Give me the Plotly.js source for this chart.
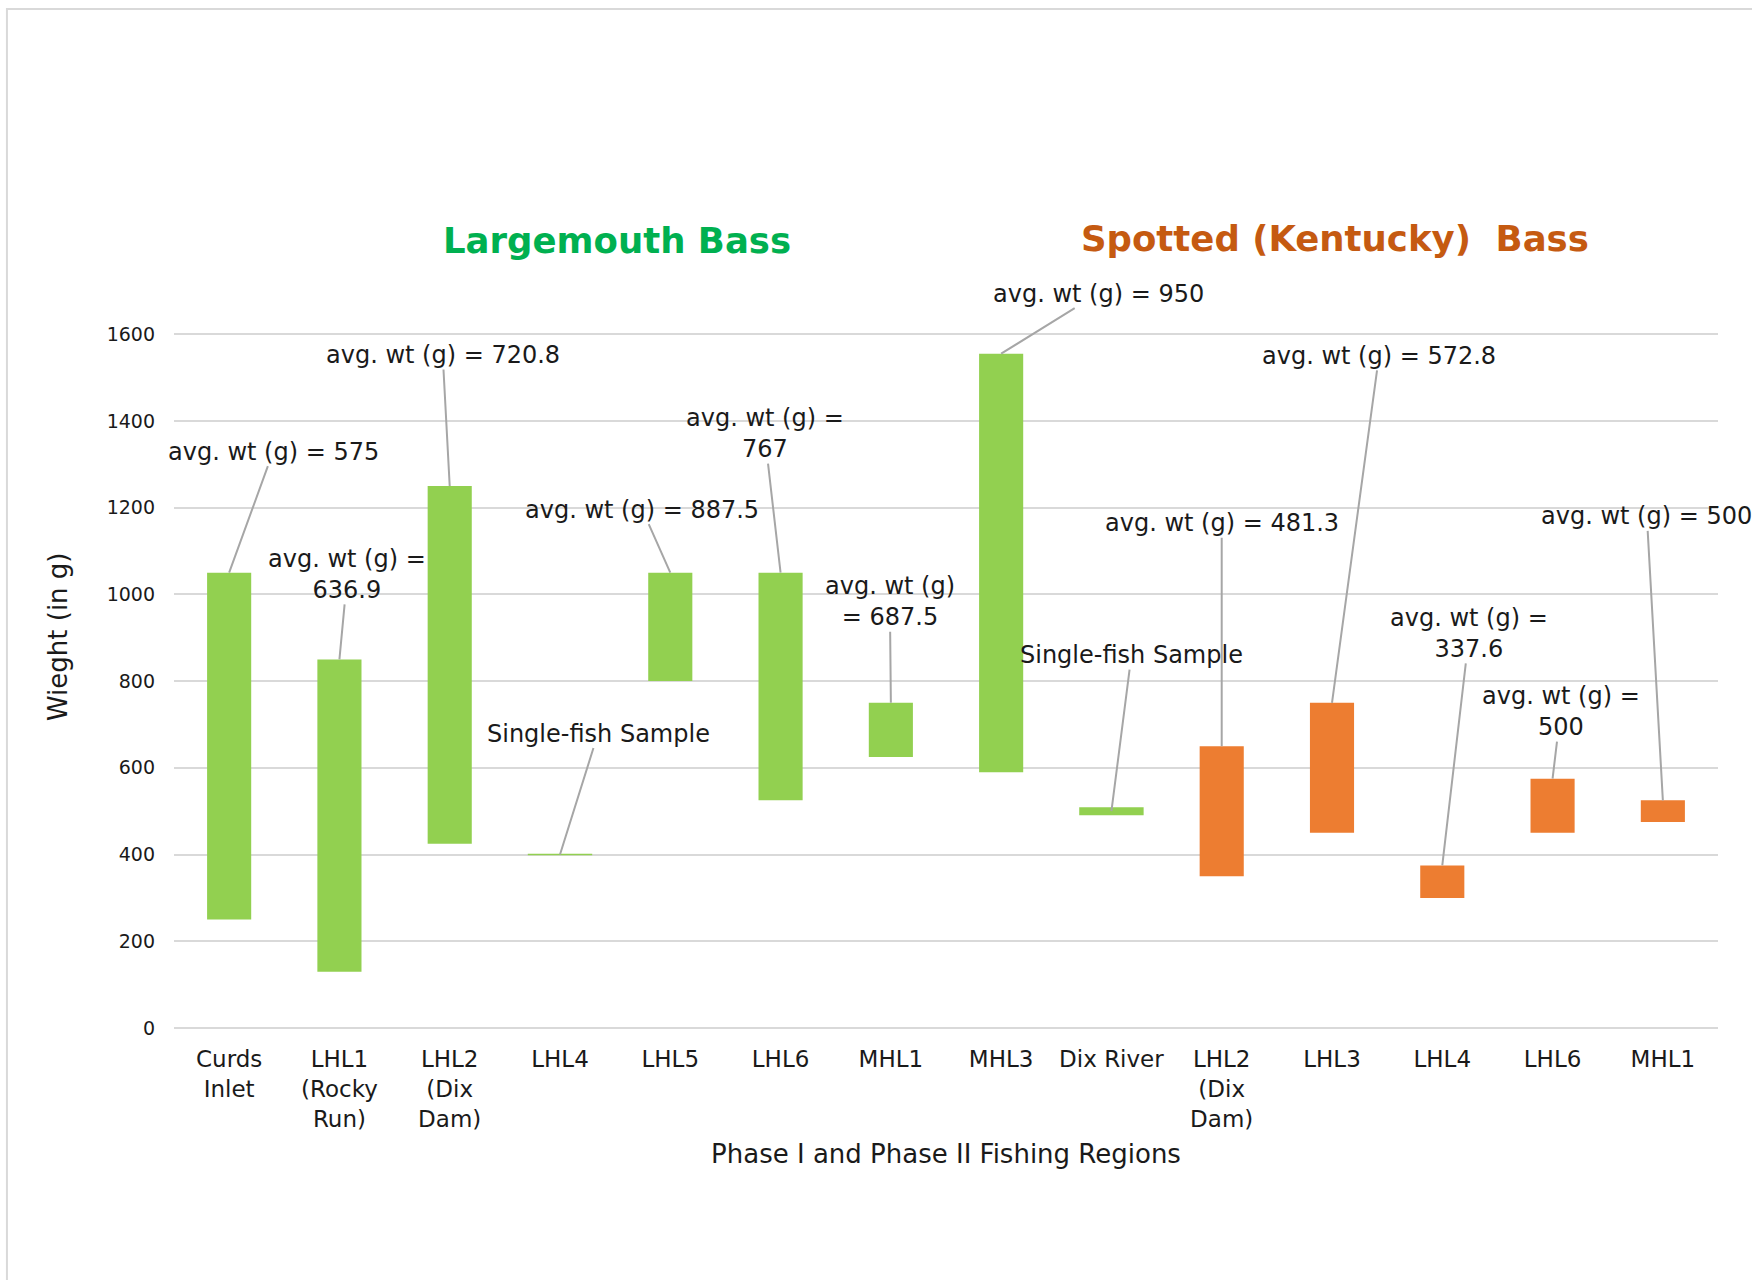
<!DOCTYPE html>
<html>
<head>
<meta charset="utf-8">
<script src="https://cdn.plot.ly/plotly-3.0.1.min.js"></script>
<style>
  html, body { margin: 0; padding: 0; background: #ffffff; }
  #chart { width: 1752px; height: 1280px; }
</style>
</head>
<body>
<div id="chart"></div>
<script>
// ---------------- DATA ----------------
const categories = [
  'Curds<br>Inlet', 'LHL1<br>(Rocky<br>Run)', 'LHL2<br>(Dix<br>Dam)', 'LHL4', 'LHL5', 'LHL6', 'MHL1', 'MHL3',
  'Dix River', 'LHL2<br>(Dix<br>Dam)', 'LHL3', 'LHL4', 'LHL6', 'MHL1'
];
const species = [
  'Largemouth', 'Largemouth', 'Largemouth', 'Largemouth', 'Largemouth', 'Largemouth', 'Largemouth', 'Largemouth',
  'Largemouth', 'Spotted', 'Spotted', 'Spotted', 'Spotted', 'Spotted'
];
const minWeight = [250, 130, 425, 400, 800, 525, 625, 590, 500, 350, 450, 300, 450, 475];
const maxWeight = [1050, 850, 1250, 400, 1050, 1050, 750, 1555, 500, 650, 750, 375, 575, 525];
const calloutText = [
  'avg. wt (g) = 575', 'avg. wt (g) =<br>636.9', 'avg. wt (g) = 720.8', 'Single-fish Sample',
  'avg. wt (g) = 887.5', 'avg. wt (g) =<br>767', 'avg. wt (g)<br>= 687.5', 'avg. wt (g) = 950',
  'Single-fish Sample', 'avg. wt (g) = 481.3', 'avg. wt (g) = 572.8', 'avg. wt (g) =<br>337.6',
  'avg. wt (g) =<br>500', 'avg. wt (g) = 500'
];
const yTickVals = [0, 200, 400, 600, 800, 1000, 1200, 1400, 1600];
const groupTitles = ['Largemouth Bass', 'Spotted (Kentucky)\u00a0 Bass'];
const xTitle = 'Phase I and Phase II Fishing Regions';
const yTitle = 'Wieght (in g)';

// ---------------- STYLE / LAYOUT CONFIG ----------------
const speciesColor = { Largemouth: '#92D050', Spotted: '#ED7D31' };
const titleColors = ['#00B050', '#C55A11'];
// callout text offsets from the bar top (pixels)
const calloutOffsets = [
  [44, -121], [8, -85], [-7, -131], [38, -121], [-28, -63], [-16, -139], [-1, -101],
  [97, -60], [20, -156], [0, -223], [47, -347], [27, -232], [8, -67], [-16, -284]
];
const FONT = '"DejaVu Sans", Verdana, sans-serif';
const TXT = '#1a1a1a';

const idx = categories.map((_, i) => i);
const traces = [];
['Largemouth', 'Spotted'].forEach(sp => {
  const sel = idx.filter(i => species[i] === sp && maxWeight[i] > minWeight[i]);
  traces.push({
    type: 'bar',
    name: sp,
    x: sel,
    base: sel.map(i => minWeight[i]),
    y: sel.map(i => maxWeight[i] - minWeight[i]),
    width: 0.4,
    marker: { color: speciesColor[sp], line: { width: 0 } },
    hoverinfo: 'skip',
    showlegend: false
  });
});
// single-fish samples (min == max) drawn as a horizontal tick
const single = idx.filter(i => maxWeight[i] === minWeight[i]);
traces.push({
  type: 'scatter',
  mode: 'markers',
  x: single,
  y: single.map(i => minWeight[i]),
  marker: {
    symbol: 'line-ew-open',
    size: 46,
    color: single.map(i => speciesColor[species[i]]),
    line: { color: single.map(i => speciesColor[species[i]]), width: single.map(i => (categories[i] === 'Dix River' ? 8 : 1.5)) }
  },
  hoverinfo: 'skip',
  showlegend: false
});

const annotations = idx.map(i => ({
  x: i, y: maxWeight[i], xref: 'x', yref: 'y',
  text: calloutText[i],
  showarrow: true, arrowhead: 0, arrowwidth: 2, arrowcolor: '#A6A6A6',
  ax: calloutOffsets[i][0], ay: calloutOffsets[i][1],
  standoff: 0, startstandoff: 0, borderpad: 0,
  font: { family: FONT, size: 24, color: TXT }
}));
annotations.push({
  xref: 'paper', yref: 'paper', x: 0.287, y: 1.132, xanchor: 'center', yanchor: 'middle', showarrow: false,
  text: '<b>' + groupTitles[0] + '</b>', font: { family: FONT, size: 35.5, color: titleColors[0] }
});
annotations.push({
  xref: 'paper', yref: 'paper', x: 0.752, y: 1.135, xanchor: 'center', yanchor: 'middle', showarrow: false,
  text: '<b>' + groupTitles[1] + '</b>', font: { family: FONT, size: 35.5, color: titleColors[1] }
});
// y-axis title (placed as in the reference, above the plot's mid-height)
annotations.push({
  xref: 'paper', yref: 'paper', x: -0.075, y: 0.562, xanchor: 'center', yanchor: 'middle', showarrow: false,
  textangle: -90, text: yTitle, font: { family: FONT, size: 26, color: TXT }
});

const layout = {
  width: 1752, height: 1280,
  margin: { l: 174, r: 34, t: 332, b: 252 },
  paper_bgcolor: '#ffffff', plot_bgcolor: '#ffffff',
  barmode: 'overlay',
  font: { family: FONT, color: TXT },
  xaxis: {
    range: [-0.5, categories.length - 0.5],
    tickvals: idx, ticktext: categories,
    tickfont: { family: FONT, size: 23, color: TXT },
    showgrid: false, zeroline: false, showline: false, ticks: '',
    ticklabelstandoff: 15,
    title: { text: xTitle, font: { family: FONT, size: 26, color: TXT }, standoff: 14 },
    fixedrange: true
  },
  yaxis: {
    range: [0, 1605],
    tickvals: yTickVals, ticktext: yTickVals.map(String),
    tickfont: { family: FONT, size: 19, color: TXT },
    showgrid: true, gridcolor: '#D9D9D9', gridwidth: 2,
    zeroline: true, zerolinecolor: '#D9D9D9', zerolinewidth: 2,
    showline: false, ticks: '',
    ticklabelstandoff: 18,
    fixedrange: true
  },
  shapes: [{
    type: 'rect', xref: 'paper', yref: 'paper',
    x0: -0.1082, x1: 1.2, y0: -0.5, y1: 1.4641,
    line: { color: '#D9D9D9', width: 2 }, fillcolor: 'rgba(0,0,0,0)', layer: 'below'
  }],
  annotations: annotations
};

Plotly.newPlot('chart', traces, layout, { staticPlot: true, displayModeBar: false });
</script>
</body>
</html>
